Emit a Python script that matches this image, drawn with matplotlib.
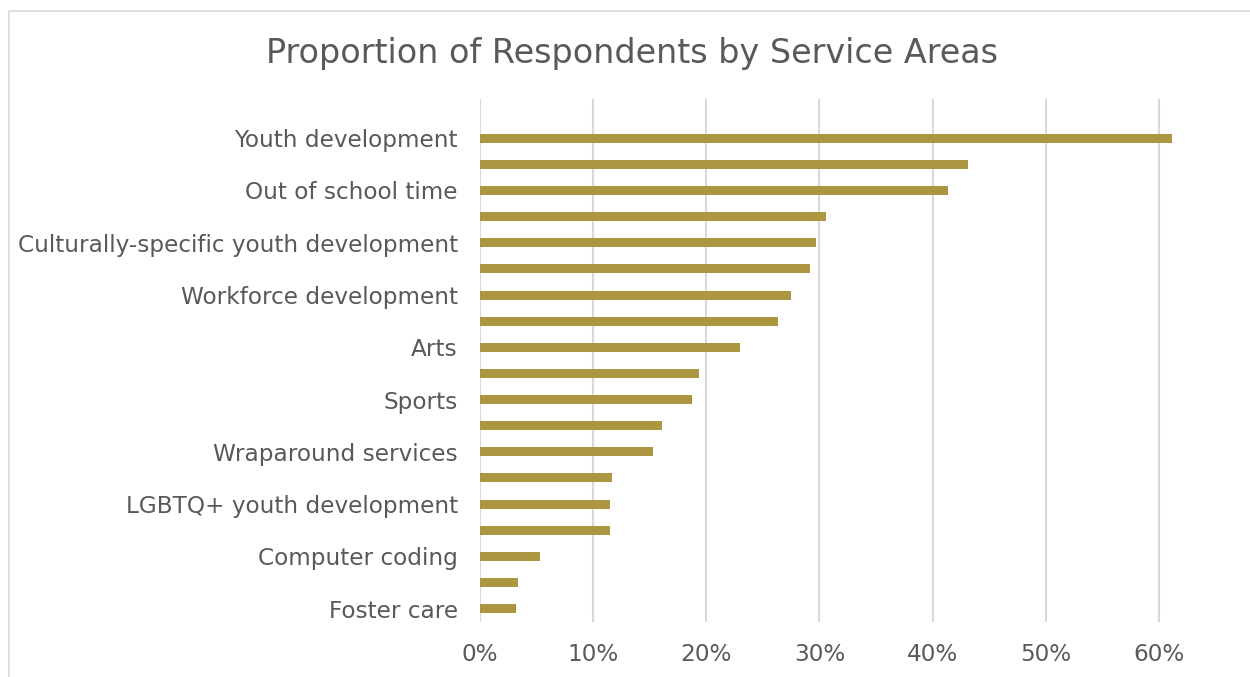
import numpy as np
import matplotlib.pyplot as plt
from matplotlib.patches import Rectangle

# service areas, top to bottom (only every other one is labelled on the axis)
areas = [
    "Youth development", "",
    "Out of school time", "",
    "Culturally-specific youth development", "",
    "Workforce development", "",
    "Arts", "",
    "Sports", "",
    "Wraparound services", "",
    "LGBTQ+ youth development", "",
    "Computer coding", "",
    "Foster care",
]
share = [0.612, 0.431, 0.414, 0.306, 0.297, 0.2915, 0.2745, 0.263, 0.230,
         0.194, 0.1875, 0.161, 0.1525, 0.1166, 0.1146, 0.1146, 0.0527,
         0.0338, 0.0315]
ticks = [0, 0.1, 0.2, 0.3, 0.4, 0.5, 0.6]

gray = "#595959"
grid = "#D9D9D9"
gold = "#AD9642"

plt.rcParams['font.family'] = ['DejaVu Sans']

fig = plt.figure(figsize=(12.5, 6.77), dpi=100)
# chart frame (cropped on the right and bottom)
fig.patches.append(Rectangle((9 / 1250, -0.1), 1.2, 1.1 - 11 / 677,
                             transform=fig.transFigure, fill=False,
                             edgecolor=grid, linewidth=1.2))

ax = fig.add_axes([480 / 1250, 1 - 621.7 / 677, 792 / 1250, 522.7 / 677])
pos = np.arange(len(share))[::-1]
ax.barh(pos, share, height=0.345, color=gold, zorder=3)

# 70% gridline falls just past the right edge, so leave it unlabelled
ax.set_xlim(0, 0.7)
ax.set_ylim(-0.5, len(share) + 0.5)
ax.set_xticks(ticks + [0.7])
ax.set_xticklabels(["%d%%" % round(t * 100) for t in ticks] + [""])
ax.set_yticks(pos)
ax.set_yticklabels(areas)
ax.tick_params(length=0, labelsize=16.7, labelcolor=gray)
ax.tick_params(axis='x', pad=15)
ax.tick_params(axis='y', pad=16)
ax.grid(axis='x', color=grid, linewidth=1.5, zorder=0)
for s in ax.spines.values():
    s.set_visible(False)

fig.text(632 / 1250, 1 - 53 / 677, "Proportion of Respondents by Service Areas",
         ha='center', va='center', fontsize=24, color=gray)

fig.savefig("out.png", dpi=100)
